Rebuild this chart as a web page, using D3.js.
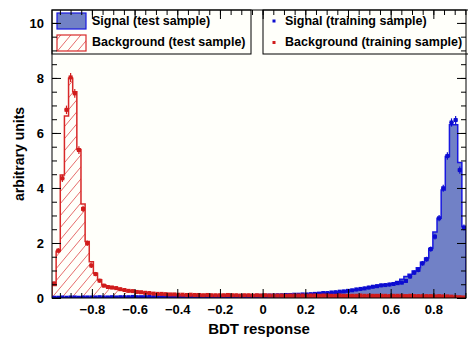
<!DOCTYPE html>
<html>
<head>
<meta charset="utf-8">
<script src="https://cdn.jsdelivr.net/npm/d3@7"></script>
<style>
  body { margin: 0; background: #fff; }
  svg { display: block; }
  text { font-family: "Liberation Sans", Arial, Helvetica, sans-serif; font-weight: bold; fill: #000; }
</style>
</head>
<body>
<svg id="chart"></svg>
<script>
// BDT response binning: 100 bins
const binRange = [-0.987, 0.953];

const sigTest = [
  0.01,0.01,0.01,0.01,0.02,0.02,0.02,0.02,0.02,0.02,
  0.02,0.02,0.02,0.02,0.03,0.03,0.03,0.03,0.03,0.03,
  0.03,0.03,0.03,0.03,0.03,0.03,0.04,0.04,0.04,0.04,
  0.04,0.04,0.04,0.04,0.04,0.05,0.05,0.05,0.05,0.05,
  0.05,0.05,0.06,0.06,0.06,0.06,0.06,0.07,0.07,0.07,
  0.08,0.08,0.08,0.09,0.09,0.10,0.10,0.11,0.11,0.12,
  0.12,0.13,0.14,0.15,0.16,0.17,0.18,0.19,0.21,0.22,
  0.24,0.26,0.28,0.30,0.32,0.35,0.38,0.41,0.44,0.46,
  0.48,0.50,0.54,0.60,0.68,0.78,0.86,0.98,1.10,1.30,
  1.45,1.80,2.40,2.90,3.93,5.14,6.30,6.30,4.93,2.60
];

const sigTrain = [
  0.01,0.01,0.02,0.01,0.02,0.02,0.01,0.02,0.02,0.02,
  0.02,0.03,0.02,0.02,0.03,0.02,0.03,0.03,0.03,0.04,
  0.03,0.03,0.03,0.04,0.03,0.04,0.04,0.04,0.04,0.04,
  0.04,0.05,0.04,0.05,0.05,0.05,0.05,0.05,0.06,0.05,
  0.05,0.06,0.06,0.06,0.06,0.07,0.07,0.07,0.07,0.08,
  0.08,0.08,0.09,0.09,0.10,0.10,0.11,0.11,0.12,0.12,
  0.13,0.13,0.14,0.15,0.16,0.18,0.18,0.20,0.21,0.23,
  0.24,0.26,0.28,0.31,0.33,0.35,0.38,0.41,0.43,0.46,
  0.47,0.49,0.51,0.54,0.56,0.62,0.78,0.92,1.02,1.26,
  1.41,1.78,2.23,2.90,3.99,5.16,6.38,6.47,4.65,2.56
];

const bkgTest = [
  0.45,1.70,4.47,6.62,7.99,7.50,5.40,3.42,2.05,1.32,
  0.90,0.66,0.48,0.42,0.38,0.35,0.31,0.28,0.26,0.24,
  0.22,0.20,0.19,0.17,0.16,0.15,0.14,0.14,0.13,0.13,
  0.12,0.12,0.12,0.11,0.11,0.11,0.11,0.11,0.10,0.10,
  0.10,0.10,0.10,0.10,0.10,0.10,0.10,0.10,0.10,0.10,
  0.10,0.09,0.09,0.09,0.09,0.09,0.09,0.09,0.09,0.09,
  0.09,0.09,0.09,0.09,0.09,0.09,0.09,0.09,0.08,0.08,
  0.08,0.08,0.08,0.08,0.08,0.08,0.08,0.08,0.08,0.08,
  0.08,0.08,0.08,0.08,0.08,0.08,0.08,0.07,0.07,0.07,
  0.07,0.07,0.07,0.07,0.06,0.06,0.05,0.04,0.03,0.02
];

const bkgTrain = [
  0.53,1.72,4.35,6.84,8.02,7.44,5.38,3.24,1.99,1.18,
  0.87,0.63,0.45,0.40,0.38,0.36,0.32,0.29,0.26,0.25,
  0.22,0.21,0.19,0.18,0.16,0.15,0.15,0.14,0.13,0.13,
  0.12,0.12,0.11,0.12,0.11,0.11,0.10,0.11,0.10,0.10,
  0.10,0.10,0.11,0.10,0.10,0.09,0.10,0.10,0.09,0.10,
  0.09,0.10,0.09,0.09,0.09,0.09,0.08,0.09,0.09,0.09,
  0.09,0.08,0.09,0.09,0.08,0.09,0.09,0.08,0.08,0.09,
  0.08,0.08,0.08,0.08,0.09,0.08,0.08,0.08,0.08,0.08,
  0.08,0.07,0.08,0.08,0.08,0.07,0.08,0.07,0.07,0.07,
  0.07,0.07,0.06,0.07,0.06,0.06,0.05,0.04,0.03,0.02
];

const xTicks = [-0.8, -0.6, -0.4, -0.2, 0, 0.2, 0.4, 0.6, 0.8];
const yTicks = [0, 2, 4, 6, 8, 10];
const legendLeft = ['Signal (test sample)', 'Background (test sample)'];
const legendRight = ['Signal (training sample)', 'Background (training sample)'];
const errScale = 0.045; // stat. error ~ errScale * sqrt(value)

const sigFill = '#7181c6', sigLine = '#1818e0', sigMark = '#0c0cd0';
const bkgLine = '#d82828', bkgHatch = '#e25a5a', bkgMark = '#d01c1c';

const width = 468, height = 338;
const frame = { left: 52, right: 466, top: 10, bottom: 298 };

const svg = d3.select('#chart')
    .attr('width', width)
    .attr('height', height);

const x = d3.scaleLinear().domain(binRange).range([frame.left, frame.right]);
const y = d3.scaleLinear().domain([0, 10.47]).range([frame.bottom, frame.top]);

const nBins = sigTest.length;
const binW = (binRange[1] - binRange[0]) / nBins;
const edge = i => binRange[0] + i * binW;

const defs = svg.append('defs');
defs.append('pattern')
    .attr('id', 'hatch')
    .attr('patternUnits', 'userSpaceOnUse')
    .attr('width', 10).attr('height', 12)
  .append('path')
    .attr('d', 'M0,12 L10,0 M-2,2.4 L2,-2.4 M8,14.4 L12,9.6')
    .attr('stroke', bkgHatch)
    .attr('stroke-width', 0.9);
defs.append('clipPath').attr('id', 'frameClip')
  .append('rect')
    .attr('x', frame.left).attr('y', frame.top)
    .attr('width', frame.right - frame.left).attr('height', frame.bottom - frame.top);

// frame background
svg.append('rect')
    .attr('x', frame.left).attr('y', frame.top)
    .attr('width', frame.right - frame.left)
    .attr('height', frame.bottom - frame.top)
    .attr('fill', '#fffffa');

const plot = svg.append('g').attr('clip-path', 'url(#frameClip)');

const histArea = d3.area()
    .x(d => x(d[0]))
    .y0(y(0))
    .y1(d => y(d[1]))
    .curve(d3.curveStepAfter);

const histPts = vals => {
    const pts = vals.map((v, i) => [edge(i), v]);
    pts.push([edge(nBins), vals[nBins - 1]]);
    return pts;
};

plot.append('path')
    .datum(histPts(sigTest))
    .attr('d', histArea)
    .attr('fill', sigFill)
    .attr('stroke', sigLine)
    .attr('stroke-width', 1.5);

plot.append('path')
    .datum(histPts(bkgTest))
    .attr('d', histArea)
    .attr('fill', 'url(#hatch)')
    .attr('stroke', bkgLine)
    .attr('stroke-width', 1.5);

const drawPoints = (vals, color) => {
    const g = plot.append('g').attr('stroke', color).attr('fill', color);
    const pts = g.selectAll('g.pt')
        .data(vals.map((v, i) => ({ i, v })))
        .enter()
      .append('g')
        .attr('class', 'pt');
    pts.append('line')
        .attr('x1', d => x(edge(d.i)))
        .attr('x2', d => x(edge(d.i + 1)))
        .attr('y1', d => y(d.v))
        .attr('y2', d => y(d.v))
        .attr('stroke-width', 1.2);
    pts.append('line')
        .attr('x1', d => x(edge(d.i + 0.5)))
        .attr('x2', d => x(edge(d.i + 0.5)))
        .attr('y1', d => y(d.v + errScale * Math.sqrt(d.v)) - 1)
        .attr('y2', d => y(Math.max(0, d.v - errScale * Math.sqrt(d.v))) + 1)
        .attr('stroke-width', 1.2);
    pts.append('rect')
        .attr('x', d => x(edge(d.i + 0.5)) - 2)
        .attr('y', d => y(d.v) - 2)
        .attr('width', 4)
        .attr('height', 4)
        .attr('stroke', 'none');
};

drawPoints(sigTrain, sigMark);
drawPoints(bkgTrain, bkgMark);

// legends
const leg1 = svg.append('g');
leg1.append('rect')
    .attr('x', frame.left).attr('y', frame.top)
    .attr('width', 251 - frame.left).attr('height', 54 - frame.top)
    .attr('fill', '#fffffa').attr('stroke', '#000').attr('stroke-width', 1);
leg1.append('rect')
    .attr('x', 57).attr('y', 13).attr('width', 29).attr('height', 16)
    .attr('fill', sigFill).attr('stroke', sigLine).attr('stroke-width', 1.2);
leg1.append('rect')
    .attr('x', 57).attr('y', 35).attr('width', 29).attr('height', 16)
    .attr('fill', 'url(#hatch)').attr('stroke', bkgLine).attr('stroke-width', 1.2);
leg1.selectAll('text')
    .data(legendLeft)
    .enter()
  .append('text')
    .attr('x', 92)
    .attr('y', (d, i) => 25 + i * 21)
    .attr('font-size', '12.5px')
    .text(d => d);

const leg2 = svg.append('g');
leg2.append('rect')
    .attr('x', 263).attr('y', frame.top)
    .attr('width', 240).attr('height', 54 - frame.top)
    .attr('fill', '#fffffa').attr('stroke', '#000').attr('stroke-width', 1);
leg2.selectAll('rect.mk')
    .data([sigMark, bkgMark])
    .enter()
  .append('rect')
    .attr('class', 'mk')
    .attr('x', 272.5)
    .attr('y', (d, i) => 19.5 + i * 21.5)
    .attr('width', 3)
    .attr('height', 3)
    .attr('fill', d => d);
leg2.selectAll('text')
    .data(legendRight)
    .enter()
  .append('text')
    .attr('x', 285)
    .attr('y', (d, i) => 25 + i * 21)
    .attr('font-size', '12.5px')
    .text(d => d);

// axes (ticks pointing inward, drawn on top)
const xMinor = d3.range(-19, 20).map(k => k * 0.05);
const yMinor = d3.range(0, 21).map(k => k * 0.5);

const styleAxis = g => {
    g.select('.domain').remove();
    g.selectAll('line').attr('stroke', '#000');
    g.selectAll('text').attr('font-size', '13px').attr('font-family', null);
};

svg.append('g')
    .attr('transform', `translate(0,${frame.bottom})`)
    .call(d3.axisBottom(x).tickValues(xTicks).tickSize(-9).tickPadding(7)
        .tickFormat(d3.format('')))
    .call(styleAxis);
svg.append('g')
    .attr('transform', `translate(0,${frame.bottom})`)
    .call(d3.axisBottom(x).tickValues(xMinor).tickSize(-5).tickFormat(''))
    .call(styleAxis);
svg.append('g')
    .attr('transform', `translate(0,${frame.top})`)
    .call(d3.axisTop(x).tickValues(xTicks).tickSize(-9).tickFormat(''))
    .call(styleAxis);
svg.append('g')
    .attr('transform', `translate(0,${frame.top})`)
    .call(d3.axisTop(x).tickValues(xMinor).tickSize(-5).tickFormat(''))
    .call(styleAxis);

svg.append('g')
    .attr('transform', `translate(${frame.left},0)`)
    .call(d3.axisLeft(y).tickValues(yTicks).tickSize(-9).tickPadding(8))
    .call(styleAxis);
svg.append('g')
    .attr('transform', `translate(${frame.left},0)`)
    .call(d3.axisLeft(y).tickValues(yMinor).tickSize(-5).tickFormat(''))
    .call(styleAxis);
svg.append('g')
    .attr('transform', `translate(${frame.right},0)`)
    .call(d3.axisRight(y).tickValues(yTicks).tickSize(-9).tickFormat(''))
    .call(styleAxis);
svg.append('g')
    .attr('transform', `translate(${frame.right},0)`)
    .call(d3.axisRight(y).tickValues(yMinor).tickSize(-5).tickFormat(''))
    .call(styleAxis);

svg.append('rect')
    .attr('x', frame.left).attr('y', frame.top)
    .attr('width', frame.right - frame.left)
    .attr('height', frame.bottom - frame.top)
    .attr('fill', 'none').attr('stroke', '#000').attr('stroke-width', 1);

// axis titles
svg.append('text')
    .attr('x', (frame.left + frame.right) / 2)
    .attr('y', 334)
    .attr('text-anchor', 'middle')
    .attr('font-size', '15px')
    .text('BDT response');

svg.append('text')
    .attr('transform', `translate(24,${(frame.top + frame.bottom) / 2}) rotate(-90)`)
    .attr('text-anchor', 'middle')
    .attr('font-size', '14px')
    .text('arbitrary units');
</script>
</body>
</html>
